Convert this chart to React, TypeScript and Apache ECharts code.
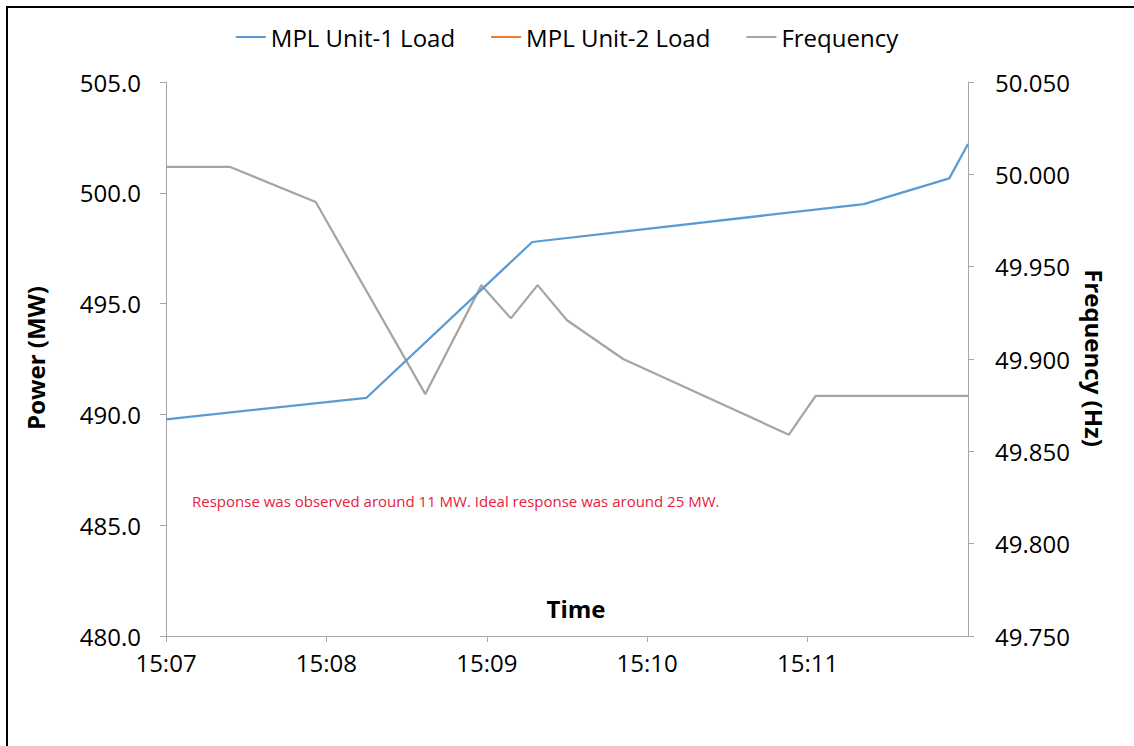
import React, { useEffect, useRef } from "react";
import * as echarts from "echarts";

// Time in seconds after 15:07:00
const unit1Times = [0, 75, 137, 261, 293, 300];
const unit1Load = [489.78, 490.75, 497.78, 499.49, 500.65, 502.2];

const unit2Times: number[] = [];
const unit2Load: number[] = [];

const freqTimes = [0, 24, 56, 97, 118, 129, 139, 150, 171, 233, 243, 300];
const frequency = [50.004, 50.004, 49.985, 49.881, 49.94, 49.922, 49.94, 49.921, 49.9, 49.859, 49.88, 49.88];

const seriesNames = ["MPL Unit-1 Load", "MPL Unit-2 Load", "Frequency"];
const colors = ["#5b9bd5", "#ed7d31", "#a5a5a5"];
const note = "Response was observed around 11 MW. Ideal response was around 25 MW.";

const FONT = "'Open Sans', 'Liberation Sans', sans-serif";

function pair(t: number[], v: number[]) {
  return t.map((x, i) => [x, v[i]]);
}

function fmtTime(v: number) {
  const m = 7 + Math.round(v / 60);
  return "15:" + String(m).padStart(2, "0");
}

export default function App() {
  const ref = useRef<HTMLDivElement>(null);
  useEffect(() => {
    if (!ref.current) return;
    const chart = echarts.init(ref.current, null, { renderer: "svg" });
    const axisLine = { show: true, lineStyle: { color: "#a6a6a6", width: 1 } };
    chart.setOption({
      animation: false,
      backgroundColor: "#ffffff",
      textStyle: { fontFamily: FONT },
      legend: {
        top: 20,
        left: "center",
        itemWidth: 30,
        itemHeight: 2,
        itemGap: 36,
        icon: "rect",
        textStyle: { fontSize: 24, color: "#000", fontFamily: FONT },
        data: seriesNames,
      },
      grid: { left: 166, right: 166, top: 82, bottom: 110 },
      xAxis: {
        type: "value",
        min: 0,
        max: 300,
        interval: 60,
        axisLine: { ...axisLine, onZero: false },
        axisTick: { show: true, inside: false, length: 6, lineStyle: { color: "#a6a6a6" } },
        splitLine: { show: false },
        axisLabel: {
          formatter: (v: number) => fmtTime(v),
          fontSize: 24,
          color: "#000",
          fontFamily: FONT,
          margin: 14,
          showMaxLabel: false,
        },
      },
      yAxis: [
        {
          type: "value",
          min: 480,
          max: 505,
          interval: 5,
          position: "left",
          axisLine,
          axisTick: { show: true, length: 6, lineStyle: { color: "#a6a6a6" } },
          splitLine: { show: false },
          axisLabel: {
            formatter: (v: number) => v.toFixed(1),
            fontSize: 24,
            color: "#000",
            fontFamily: FONT,
            margin: 25,
          },
        },
        {
          type: "value",
          min: 49.75,
          max: 50.05,
          interval: 0.05,
          position: "right",
          axisLine,
          axisTick: { show: true, length: 6, lineStyle: { color: "#a6a6a6" } },
          splitLine: { show: false },
          axisLabel: {
            formatter: (v: number) => v.toFixed(3),
            fontSize: 24,
            color: "#000",
            fontFamily: FONT,
            margin: 27,
          },
        },
      ],
      series: [
        {
          name: seriesNames[0],
          type: "line",
          yAxisIndex: 0,
          data: pair(unit1Times, unit1Load),
          showSymbol: false,
          lineStyle: { color: colors[0], width: 2.25 },
          itemStyle: { color: colors[0] },
          z: 3,
        },
        {
          name: seriesNames[1],
          type: "line",
          yAxisIndex: 0,
          data: pair(unit2Times, unit2Load),
          showSymbol: false,
          lineStyle: { color: colors[1], width: 2.25 },
          itemStyle: { color: colors[1] },
          z: 2,
        },
        {
          name: seriesNames[2],
          type: "line",
          yAxisIndex: 1,
          data: pair(freqTimes, frequency),
          showSymbol: false,
          lineStyle: { color: colors[2], width: 2.25 },
          itemStyle: { color: colors[2] },
          z: 2,
        },
      ],
      graphic: [
        {
          type: "rect",
          shape: { x: 7, y: 7, width: 1200, height: 800 },
          style: { fill: "none", stroke: "#000", lineWidth: 2 },
          silent: true,
        },
        {
          type: "text",
          x: 35,
          y: 358,
          rotation: Math.PI / 2,
          style: {
            text: "Power (MW)",
            fontSize: 24,
            fontWeight: "bold",
            fontFamily: FONT,
            fill: "#000",
            align: "center",
            verticalAlign: "middle",
          },
        },
        {
          type: "text",
          x: 1094,
          y: 358,
          rotation: -Math.PI / 2,
          style: {
            text: "Frequency (Hz)",
            fontSize: 24,
            fontWeight: "bold",
            fontFamily: FONT,
            fill: "#000",
            align: "center",
            verticalAlign: "middle",
          },
        },
        {
          type: "text",
          x: 576,
          y: 608,
          style: {
            text: "Time",
            fontSize: 24,
            fontWeight: "bold",
            fontFamily: FONT,
            fill: "#000",
            align: "center",
            verticalAlign: "middle",
          },
        },
        {
          type: "text",
          x: 192,
          y: 501,
          style: {
            text: note,
            fontSize: 15,
            fontFamily: FONT,
            fill: "#e8203a",
            align: "left",
            verticalAlign: "middle",
          },
        },
      ],
    });
    return () => chart.dispose();
  }, []);
  return (
    <div
      ref={ref}
      style={{ position: "fixed", left: 0, top: 0, width: 1134, height: 746 }}
    />
  );
}
